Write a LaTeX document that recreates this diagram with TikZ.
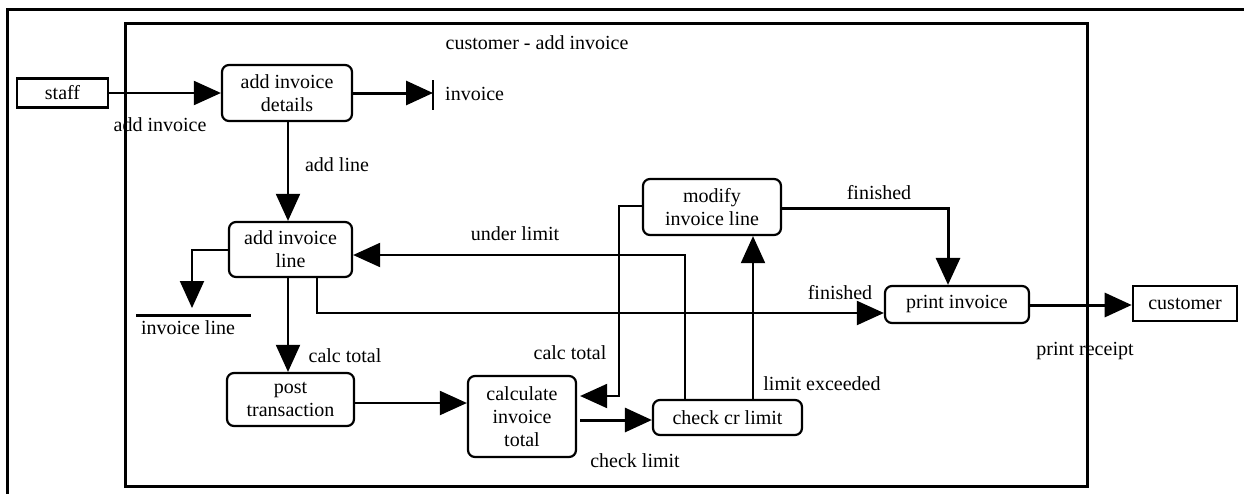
\documentclass[tikz,border=0pt]{standalone}
\usepackage{fontspec}
\setmainfont{Liberation Serif}
\usetikzlibrary{arrows.meta}

\begin{document}
\begin{tikzpicture}[x=1pt,y=-1pt,
  font=\fontsize{20}{23}\selectfont,
  proc/.style={draw, line width=2.2pt, rounded corners=7pt, align=center, inner sep=0pt, fill=white},
  ext/.style={draw, line width=2.6pt, inner sep=0pt, fill=white},
  flow/.style={line width=2pt, -{Triangle[length=27pt,width=24pt]}},
  heavy/.style={flow, line width=3pt},
  frame/.style={line width=3pt},
  lbl/.style={inner sep=0pt},
]
\useasboundingbox (0,0) rectangle (1244,493);

% page frame and process boundary
\draw[frame] (7,500) -- (7,9) -- (1250,9);
\draw[frame] (125,23) rectangle (1087,486);

% bend points and connector rails
\coordinate (invbar)  at (433,93);
\coordinate (invbarT) at (433,80);
\coordinate (invbarB) at (433,110);
\coordinate (iltip)   at (192,308);
\coordinate (ilL)     at (136,315);
\coordinate (ilR)     at (251,315);
\coordinate (fb)      at (317,313);
\coordinate (vx)      at (288,0);
\coordinate (pc)      at (0,403);
\coordinate (cy)      at (0,420);
\coordinate (ct1)     at (619,206);
\coordinate (ct2)     at (619,396);
\coordinate (ul)      at (685,255);
\coordinate (le)      at (753,0);
\coordinate (ft)      at (948,208);
\coordinate (pr)      at (0,305);

% external entities
\node[ext, minimum width=91pt, minimum height=29pt] (staff) at (62.5,93) {staff};
\node[ext, minimum width=104pt, minimum height=35pt] (customer) at (1185,303.5) {customer};

% processes
\node[proc, minimum width=130pt, minimum height=56pt] (details) at (287,93) {add invoice\\details};
\node[proc, minimum width=123pt, minimum height=55pt] (addline) at (290.5,249.5) {add invoice\\line};
\node[proc, minimum width=127pt, minimum height=53pt] (post) at (290.5,399.5) {post\\transaction};
\node[proc, minimum width=108pt, minimum height=81pt] (calc) at (522,416.5) {calculate\\invoice\\total};
\node[proc, minimum width=149pt, minimum height=35pt] (check) at (727.5,417.5) {check cr limit};
\node[proc, minimum width=138pt, minimum height=56pt] (modify) at (712,207) {modify\\invoice line};
\node[proc, minimum width=144pt, minimum height=37pt] (print) at (957,304.5) {print invoice};

% data stores
\draw[line width=2.6pt] (invbarT) -- (invbarB);
\draw[line width=3pt] (ilL) -- (ilR);

% flows
\draw[flow] (staff.east) -- (staff.east -| details.west);
\draw[heavy] (details.east) -- (invbar);
\draw[flow] (details.south -| vx) -- (addline.north -| vx);
\draw[flow] (addline.west) -| (iltip);
\draw[flow] (addline.south -| fb) -- (fb) -- (fb -| print.west);
\draw[flow] (addline.south -| vx) -- (post.north -| vx);
\draw[flow] (post.east |- pc) -- (calc.west |- pc);
\draw[heavy, shorten <=3pt] (calc.east |- cy) -- (check.west |- cy);
\draw[flow, shorten >=3pt] (modify.west |- ct1) -- (ct1) -- (ct2) -- (calc.east |- ct2);
\draw[flow] (check.north -| ul) -- (ul) -- (addline.east |- ul);
\draw[flow] (check.north -| le) -- (modify.south -| le);
\draw[heavy] (modify.east |- ft) -- (ft) -- (print.north -| ft);
\draw[heavy] (print.east |- pr) -- (customer.west |- pr);

% labels
\node[lbl] (title) at (537,43) {customer - add invoice};
\node[lbl, anchor=west] (invtxt) at (445,94) {invoice};
\node[lbl] (l1) at (160,125) {add invoice};
\node[lbl] (l2) at (337,165) {add line};
\node[lbl] (iltxt) at (188,328) {invoice line};
\node[lbl] (l3) at (345,356) {calc total};
\node[lbl] (l4) at (570,353) {calc total};
\node[lbl] (l5) at (635,461) {check limit};
\node[lbl] (l6) at (822,384) {limit exceeded};
\node[lbl] (l7) at (515,234) {under limit};
\node[lbl] (l8) at (879,193) {finished};
\node[lbl] (l9) at (840,293) {finished};
\node[lbl] (l10) at (1085,351) {print receipt};
\end{tikzpicture}
\end{document}
